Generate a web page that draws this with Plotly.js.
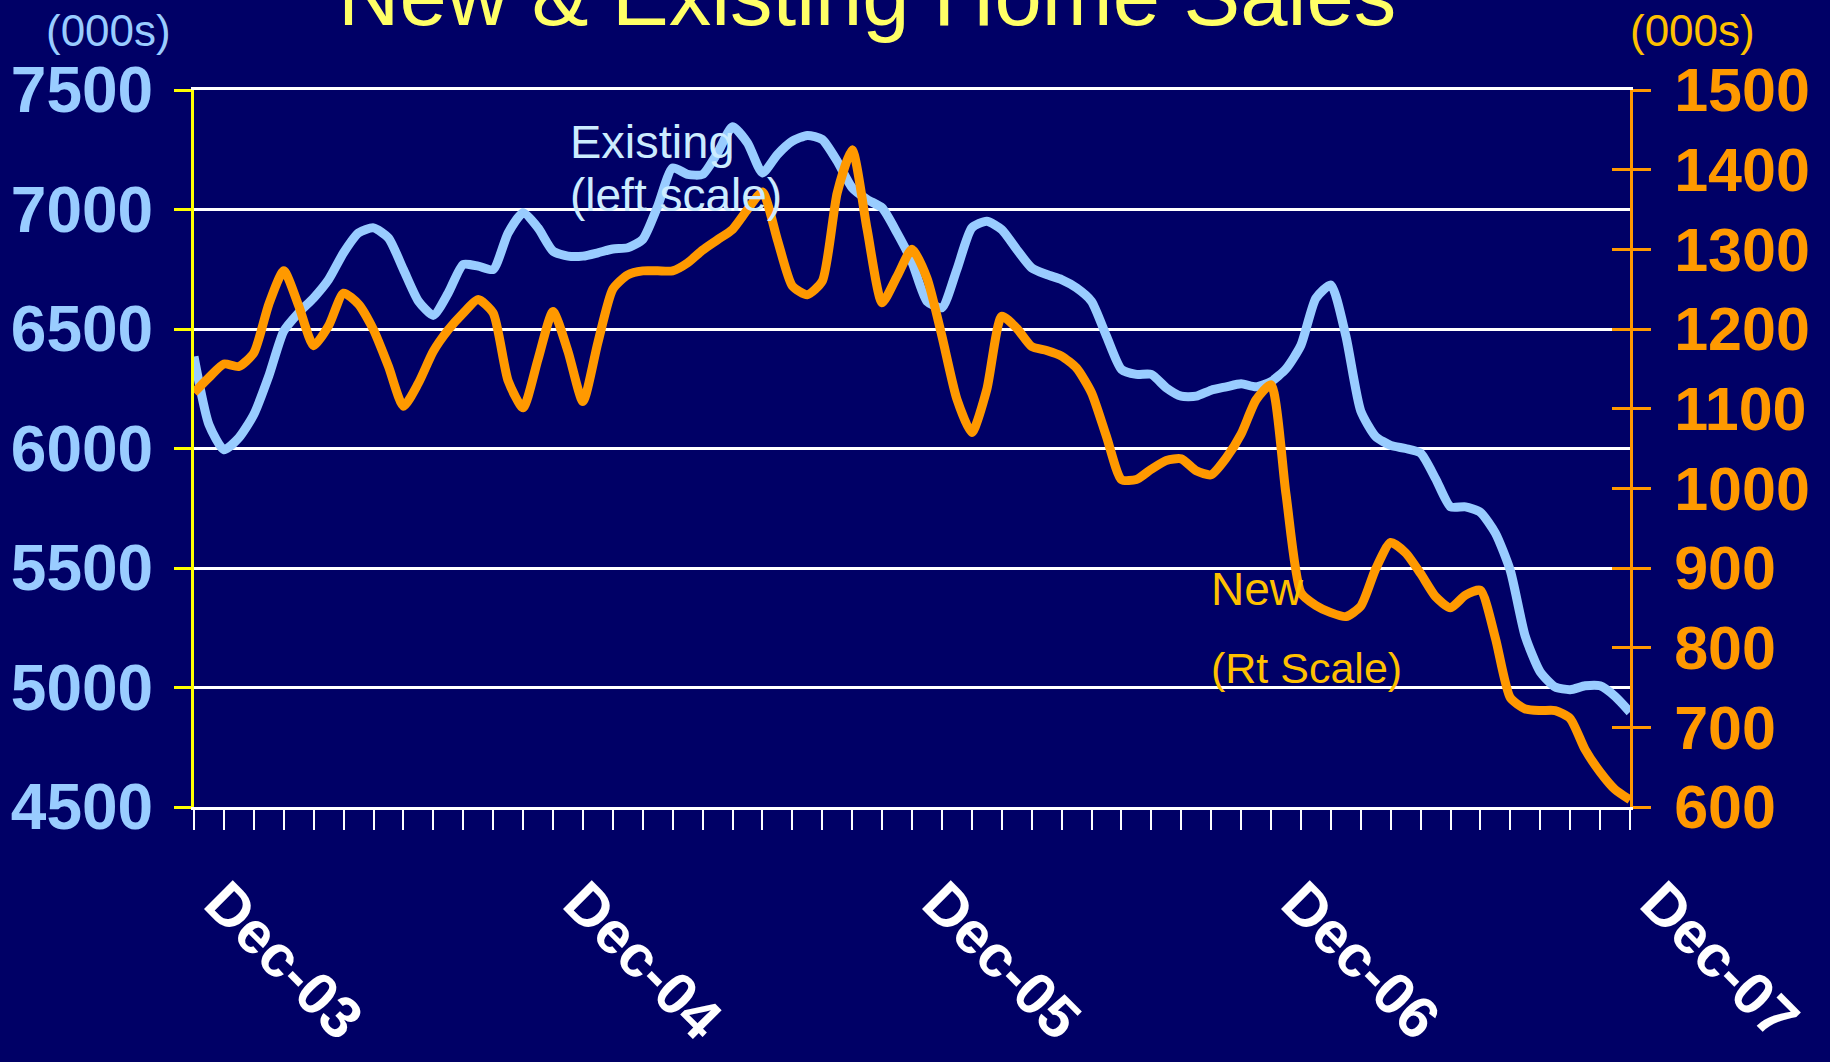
<!DOCTYPE html>
<html>
<head>
<meta charset="utf-8">
<script src="https://cdn.plot.ly/plotly-3.0.1.min.js"></script>
<style>
  html, body { margin: 0; padding: 0; background: #000066; }
  #chart { width: 1830px; height: 1062px; }
</style>
</head>
<body>
<div id="chart"></div>
<script>
// Month positions (0 = Dec-03, 48 = Dec-07), sampled every half month
const monthPos = [0,0.5,1,1.5,2,2.5,3,3.5,4,4.5,5,5.5,6,6.5,7,7.5,8,8.5,9,9.5,10,10.5,11,11.5,12,12.5,13,13.5,14,14.5,15,15.5,16,16.5,17,17.5,18,18.5,19,19.5,20,20.5,21,21.5,22,22.5,23,23.5,24,24.5,25,25.5,26,26.5,27,27.5,28,28.5,29,29.5,30,30.5,31,31.5,32,32.5,33,33.5,34,34.5,35,35.5,36,36.5,37,37.5,38,38.5,39,39.5,40,40.5,41,41.5,42,42.5,43,43.5,44,44.5,45,45.5,46,46.5,47,47.5,48];

// Existing home sales (000s, left scale)
const existingSales = [6385,6100,5995,6045,6142,6303,6491,6568,6630,6707,6819,6902,6923,6881,6749,6617,6557,6651,6770,6763,6749,6902,6986,6923,6826,6805,6805,6819,6835,6840,6875,7014,7174,7147,7147,7237,7346,7279,7153,7230,7286,7310,7293,7202,7091,7042,7007,6902,6780,6616,6589,6749,6923,6951,6916,6833,6756,6728,6707,6672,6616,6470,6331,6310,6310,6254,6219,6219,6244,6258,6271,6258,6280,6333,6432,6629,6684,6472,6157,6050,6013,6000,5981,5874,5756,5756,5733,5646,5489,5214,5065,5002,4991,5007,5007,4963,4897];

// New home sales (000s, right scale)
const newSales = [1120,1139,1156,1153,1170,1231,1273,1229,1179,1204,1245,1231,1199,1153,1103,1132,1172,1199,1220,1237,1220,1135,1101,1162,1222,1172,1109,1183,1250,1268,1273,1273,1273,1283,1299,1312,1325,1350,1372,1312,1254,1243,1260,1371,1425,1325,1233,1266,1300,1264,1191,1112,1070,1124,1216,1201,1178,1173,1166,1151,1120,1065,1011,1011,1024,1035,1037,1022,1017,1038,1068,1111,1130,993,869,853,844,839,852,899,932,919,893,864,850,866,872,812,737,723,721,721,711,672,644,622,609];

// Monthly tick positions and labels
const tickPos = [0,1,2,3,4,5,6,7,8,9,10,11,12,13,14,15,16,17,18,19,20,21,22,23,24,25,26,27,28,29,30,31,32,33,34,35,36,37,38,39,40,41,42,43,44,45,46,47,48];
const yearLabels = {0: "Dec-03", 12: "Dec-04", 24: "Dec-05", 36: "Dec-06", 48: "Dec-07"};
const tickText = tickPos.map(p => yearLabels[p] || "");

const leftTicks = [4500,5000,5500,6000,6500,7000,7500];
const rightTicks = [600,700,800,900,1000,1100,1200,1300,1400,1500];

const FONT = "Liberation Sans, Arial, sans-serif";

const traces = [
  {
    x: monthPos, y: existingSales, type: "scatter", mode: "lines",
    line: {color: "#99CCFF", width: 9, shape: "spline", smoothing: 0.6},
    yaxis: "y", hoverinfo: "skip"
  },
  {
    x: monthPos, y: newSales, type: "scatter", mode: "lines",
    line: {color: "#FF9900", width: 9, shape: "spline", smoothing: 0.6},
    yaxis: "y2", hoverinfo: "skip"
  },
  { x: [], y: [], type: "scatter", mode: "lines", yaxis: "y3", showlegend: false }
];

const layout = {
  width: 1830, height: 1062,
  paper_bgcolor: "#000066", plot_bgcolor: "#000066",
  showlegend: false,
  margin: {l: 194, r: 200, t: 90, b: 255, pad: 0},
  font: {family: FONT},
  xaxis: {
    range: [0, 48], tickmode: "array", tickvals: tickPos, ticktext: tickText,
    ticks: "outside", ticklen: 20, tickwidth: 2, tickcolor: "#FFFFFF",
    showline: true, linecolor: "#FFFFFF", linewidth: 3, mirror: true,
    showgrid: false, zeroline: false, tickangle: 45,
    tickfont: {family: FONT, size: 59, color: "#FFFFFF", weight: "bold"},
    ticklabelstandoff: 14, ticklabelshift: 28, automargin: false, fixedrange: true
  },
  yaxis: {
    range: [4500, 7500], tickmode: "array", tickvals: leftTicks,
    showgrid: true, gridcolor: "#FFFFFF", gridwidth: 3,
    showline: true, linecolor: "#FFFF00", linewidth: 3,
    ticks: "outside", ticklen: 17, tickwidth: 3, tickcolor: "#FFFF00",
    tickfont: {family: FONT, size: 64, color: "#99CCFF", weight: "bold"},
    ticklabelstandoff: 8, zeroline: false, automargin: false, fixedrange: true
  },
  yaxis2: {
    overlaying: "y", side: "right", range: [600, 1500],
    tickmode: "array", tickvals: rightTicks,
    showgrid: false, showline: true, linecolor: "#FF9900", linewidth: 3,
    ticks: "outside", ticklen: 18, tickwidth: 3, tickcolor: "#FF9900",
    tickfont: {family: FONT, size: 61, color: "#FF9900", weight: "bold"},
    ticklabelstandoff: 11, zeroline: false, automargin: false, fixedrange: true
  },
  yaxis3: {
    overlaying: "y", side: "right", range: [600, 1500],
    tickmode: "array", tickvals: rightTicks,
    showgrid: false, showline: false, showticklabels: false,
    ticks: "inside", ticklen: 18, tickwidth: 3, tickcolor: "#FF9900",
    zeroline: false, automargin: false, fixedrange: true
  },
  annotations: [
    {text: "New &amp; Existing Home Sales", xref: "paper", yref: "paper", x: 0.4687, y: 1.1318,
     xanchor: "center", yanchor: "middle", showarrow: false,
     font: {family: FONT, size: 85, color: "#FFFF66"}},
    {text: "(000s)", xref: "paper", yref: "paper", x: -0.0592, y: 1.0826,
     xanchor: "center", yanchor: "middle", showarrow: false,
     font: {family: FONT, size: 44, color: "#99CCFF"}},
    {text: "(000s)", xref: "paper", yref: "paper", x: 1.0432, y: 1.0826,
     xanchor: "center", yanchor: "middle", showarrow: false,
     font: {family: FONT, size: 44, color: "#FFC000"}},
    {text: "Existing", xref: "paper", yref: "paper", x: 0.2605, y: 0.9275,
     xanchor: "left", yanchor: "middle", showarrow: false,
     font: {family: FONT, size: 47, color: "#CCECFF"}},
    {text: "(left scale)", xref: "paper", yref: "paper", x: 0.2605, y: 0.853,
     xanchor: "left", yanchor: "middle", showarrow: false,
     font: {family: FONT, size: 46, color: "#CCECFF"}},
    {text: "New", xref: "paper", yref: "paper", x: 0.7065, y: 0.3035,
     xanchor: "left", yanchor: "middle", showarrow: false,
     font: {family: FONT, size: 46, color: "#FFC000"}},
    {text: "(Rt Scale)", xref: "paper", yref: "paper", x: 0.7065, y: 0.1939,
     xanchor: "left", yanchor: "middle", showarrow: false,
     font: {family: FONT, size: 43, color: "#FFC000"}}
  ]
};

Plotly.newPlot("chart", traces, layout, {staticPlot: true, displayModeBar: false});
</script>
</body>
</html>
